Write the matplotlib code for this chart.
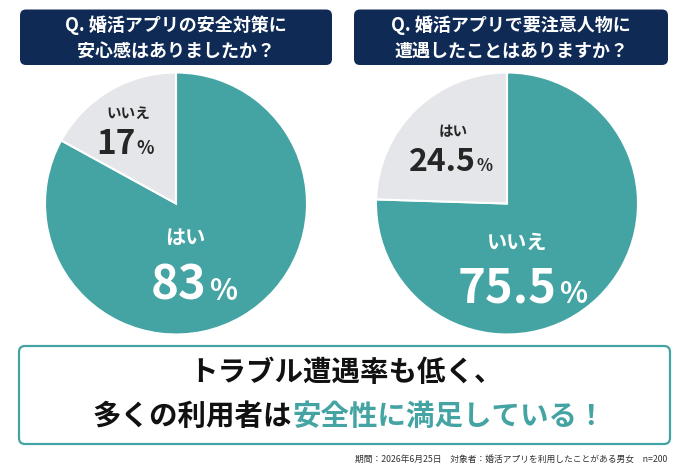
import matplotlib
matplotlib.use("Agg")
import matplotlib.pyplot as plt
from matplotlib.patches import FancyBboxPatch

plt.rcParams['font.family'] = ['Noto Sans CJK JP', 'DejaVu Sans']

# data
titles = ["Q. 婚活アプリの安全対策に\n安心感はありましたか？",
          "Q. 婚活アプリで要注意人物に\n遭遇したことはありますか？"]
big_labels = ["はい", "いいえ"]
big_values = [83, 75.5]
small_labels = ["いいえ", "はい"]
small_values = [17, 24.5]
headline1 = "トラブル遭遇率も低く、"
headline2a = "多くの利用者は"
headline2b = "安全性に満足している！"
footnote = "期間：2026年6月25日　対象者：婚活アプリを利用したことがある男女　n=200"

TEAL = "#44a3a3"
GRAY = "#e4e6e9"
NAVY = "#0e2a55"
DARK = "#262626"

W, H = 690, 470
fig = plt.figure(figsize=(W / 100, H / 100), dpi=100)
fig.patch.set_facecolor("white")

# overlay in pixel coordinates (y down)
ov = fig.add_axes([0, 0, 1, 1])
ov.set_xlim(0, W)
ov.set_ylim(H, 0)
ov.axis("off")

def fmt(v):
    return f"{v:g}"

# pie centres / radius in pixels
centers = [(176, 203.5), (507, 203.5)]
R = 131
boxes = [(20, 332), (354, 668)]

# small label / big label positions (relative to pie, radius units)
small_pos = [(-0.36, 0.69, -0.31, 0.38), (-0.41, 0.55, -0.24, 0.245)]
big_pos = [(0.07, -0.255, 0.236, -0.734), (0.08, -0.296, 0.38, -0.758)]
big_sizes = [34, 34]
big_pct = [21, 21]
small_sizes = [24, 23]
small_pct = [13, 12]

for i in range(2):
    cx, cy = centers[i]
    ax = fig.add_axes([(cx - R) / W, (H - cy - R) / H, 2 * R / W, 2 * R / H])
    ax.pie([big_values[i], small_values[i]], colors=[TEAL, GRAY],
           startangle=90, counterclock=False, radius=1,
           wedgeprops=dict(edgecolor="white", linewidth=1.5))
    ax.set_xlim(-1, 1)
    ax.set_ylim(-1, 1)
    ax.set_aspect("equal")
    ax.axis("off")

    # title box
    x0, x1 = boxes[i]
    ov.add_patch(FancyBboxPatch((x0 + 6, 9.5 + 6), x1 - x0 - 12, 55.5 - 12,
                                boxstyle="round,pad=6", fc=NAVY, ec="none"))
    ov.text((x0 + x1) / 2, 38, titles[i], color="white", fontsize=13,
            fontweight="bold", ha="center", va="center", linespacing=1.45)

    # small slice label
    lx, ly, nx, ny = small_pos[i]
    ax.text(lx, ly, small_labels[i], color=DARK, fontsize=10.5,
            fontweight="bold", ha="center", va="center")
    ax.text(nx, ny, fmt(small_values[i]), color=DARK, fontsize=small_sizes[i],
            fontweight="bold", ha="right", va="baseline")
    ax.text(nx + 0.01, ny, "%", color=DARK, fontsize=small_pct[i],
            fontweight="bold", ha="left", va="baseline")

    # big slice label
    lx, ly, nx, ny = big_pos[i]
    ax.text(lx, ly, big_labels[i], color="white", fontsize=14.5,
            fontweight="bold", ha="center", va="center")
    ax.text(nx, ny, fmt(big_values[i]), color="white", fontsize=big_sizes[i],
            fontweight="bold", ha="right", va="baseline")
    ax.text(nx + 0.015, ny, "%", color="white", fontsize=big_pct[i],
            fontweight="bold", ha="left", va="baseline")

# bottom message box
ov.add_patch(FancyBboxPatch((19 + 6, 346 + 6), 651 - 12, 98 - 12,
                            boxstyle="round,pad=6", fc="white", ec=TEAL,
                            linewidth=1.6))
ov.text(346, 373, headline1, color="#111111", fontsize=20.5,
        fontweight="bold", ha="center", va="center")

# second line: two colours, centred together
renderer = fig.canvas.get_renderer()
t1 = ov.text(0, 417, headline2a, color="#111111", fontsize=20.5,
             fontweight="bold", ha="left", va="center")
t2 = ov.text(0, 417, headline2b, color=TEAL, fontsize=20.5,
             fontweight="bold", ha="left", va="center")
w1 = t1.get_window_extent(renderer).width
w2 = t2.get_window_extent(renderer).width
start = 349 - (w1 + w2) / 2
t1.set_x(start)
t2.set_x(start + w1)

ov.text(667, 459, footnote, color="#333333", fontsize=6.3,
        ha="right", va="center")

fig.savefig("out.png", dpi=100, facecolor="white")
